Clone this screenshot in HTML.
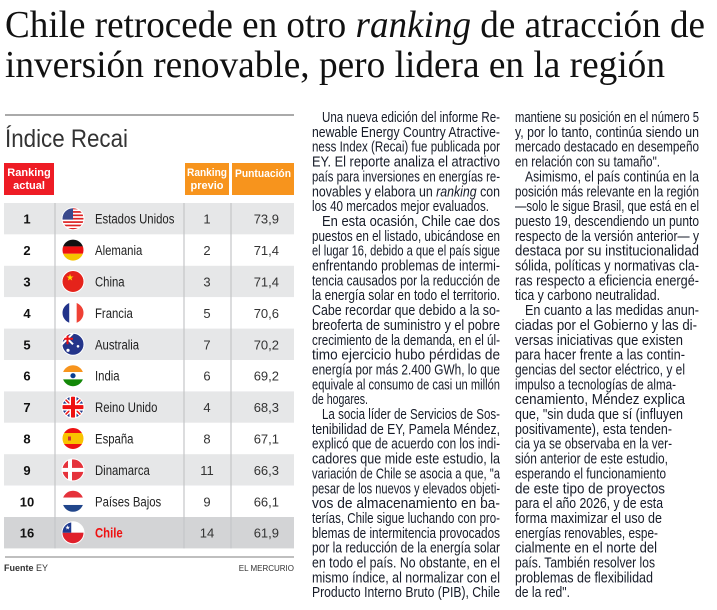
<!DOCTYPE html>
<html><head><meta charset="utf-8"><style>
html,body{margin:0;padding:0;background:#fff;width:717px;height:610px;overflow:hidden}
svg{display:block}
.t{font-family:"Liberation Serif",serif;font-size:38px;fill:#111}
.b{font-family:"Liberation Sans",sans-serif;font-size:14.5px;fill:#161b28}
</style></head><body>
<svg id="page" width="717" height="610" viewBox="0 0 717 610" xmlns="http://www.w3.org/2000/svg">
<g>
<text class="t" x="5" y="37" textLength="700" lengthAdjust="spacingAndGlyphs">Chile retrocede en otro <tspan font-style="italic">ranking</tspan> de atracción de</text>
<text class="t" x="5" y="77" textLength="660" lengthAdjust="spacingAndGlyphs">inversión renovable, pero lidera en la región</text>
</g>
<line x1="5" y1="115" x2="294" y2="115" stroke="#aaa" stroke-width="2"/>
<text x="5" y="147" font-family="Liberation Sans,sans-serif" font-size="25" fill="#333" textLength="123" lengthAdjust="spacingAndGlyphs">Índice Recai</text>
<g font-family="Liberation Sans,sans-serif" font-weight="bold" font-size="11" fill="#fff" text-anchor="middle">
<rect x="4" y="163" width="50" height="32" fill="#ee1c25"/>
<text x="29" y="176">Ranking</text><text x="29" y="189">actual</text>
<rect x="185" y="163" width="44" height="32" fill="#f7941d"/>
<text x="207" y="176" textLength="40" lengthAdjust="spacingAndGlyphs">Ranking</text><text x="207" y="189">previo</text>
<rect x="232" y="163" width="62" height="32" fill="#f7941d"/>
<text x="263" y="177" textLength="56" lengthAdjust="spacingAndGlyphs">Puntuación</text>
</g>
<g id="table"></g>
<line x1="5" y1="557" x2="294" y2="557" stroke="#aaa" stroke-width="1.5"/>
<text x="4" y="571" font-family="Liberation Sans,sans-serif" font-size="9" fill="#333"><tspan font-weight="bold">Fuente</tspan> EY</text>
<text x="294" y="571" text-anchor="end" font-family="Liberation Sans,sans-serif" font-size="8" fill="#333">EL MERCURIO</text>

<g class="b">
<text x="322" y="122" textLength="178" lengthAdjust="spacingAndGlyphs">Una nueva edición del informe Re-</text>
<text x="312" y="136.9" textLength="188" lengthAdjust="spacingAndGlyphs">newable Energy Country Atractive-</text>
<text x="312" y="151.7" textLength="188" lengthAdjust="spacingAndGlyphs">ness Index (Recai) fue publicada por</text>
<text x="312" y="166.6" textLength="188" lengthAdjust="spacingAndGlyphs">EY. El reporte analiza el atractivo</text>
<text x="312" y="181.4" textLength="188" lengthAdjust="spacingAndGlyphs">país para inversiones en energías re-</text>
<text x="312" y="196.3" textLength="188" lengthAdjust="spacingAndGlyphs">novables y elabora un <tspan font-style="italic">ranking</tspan> con</text>
<text x="312" y="211.1" textLength="177" lengthAdjust="spacingAndGlyphs">los 40 mercados mejor evaluados.</text>
<text x="322" y="226" textLength="178" lengthAdjust="spacingAndGlyphs">En esta ocasión, Chile cae dos</text>
<text x="312" y="240.8" textLength="188" lengthAdjust="spacingAndGlyphs">puestos en el listado, ubicándose en</text>
<text x="312" y="255.7" textLength="188" lengthAdjust="spacingAndGlyphs">el lugar 16, debido a que el país sigue</text>
<text x="312" y="270.5" textLength="188" lengthAdjust="spacingAndGlyphs">enfrentando problemas de intermi-</text>
<text x="312" y="285.4" textLength="188" lengthAdjust="spacingAndGlyphs">tencia causados por la reducción de</text>
<text x="312" y="300.2" textLength="188" lengthAdjust="spacingAndGlyphs">la energía solar en todo el territorio.</text>
<text x="312" y="315.1" textLength="188" lengthAdjust="spacingAndGlyphs">Cabe recordar que debido a la so-</text>
<text x="312" y="329.9" textLength="188" lengthAdjust="spacingAndGlyphs">breoferta de suministro y el pobre</text>
<text x="312" y="344.8" textLength="188" lengthAdjust="spacingAndGlyphs">crecimiento de la demanda, en el úl-</text>
<text x="312" y="359.6" textLength="188" lengthAdjust="spacingAndGlyphs">timo ejercicio hubo pérdidas de</text>
<text x="312" y="374.5" textLength="188" lengthAdjust="spacingAndGlyphs">energía por más 2.400 GWh, lo que</text>
<text x="312" y="389.3" textLength="188" lengthAdjust="spacingAndGlyphs">equivale al consumo de casi un millón</text>
<text x="312" y="404.2" textLength="56" lengthAdjust="spacingAndGlyphs">de hogares.</text>
<text x="322" y="419" textLength="178" lengthAdjust="spacingAndGlyphs">La socia líder de Servicios de Sos-</text>
<text x="312" y="433.9" textLength="188" lengthAdjust="spacingAndGlyphs">tenibilidad de EY, Pamela Méndez,</text>
<text x="312" y="448.7" textLength="188" lengthAdjust="spacingAndGlyphs">explicó que de acuerdo con los indi-</text>
<text x="312" y="463.6" textLength="188" lengthAdjust="spacingAndGlyphs">cadores que mide este estudio, la</text>
<text x="312" y="478.4" textLength="188" lengthAdjust="spacingAndGlyphs">variación de Chile se asocia a que, "a</text>
<text x="312" y="493.3" textLength="188" lengthAdjust="spacingAndGlyphs">pesar de los nuevos y elevados objeti-</text>
<text x="312" y="508.1" textLength="188" lengthAdjust="spacingAndGlyphs">vos de almacenamiento en ba-</text>
<text x="312" y="523" textLength="188" lengthAdjust="spacingAndGlyphs">terías, Chile sigue luchando con pro-</text>
<text x="312" y="537.8" textLength="188" lengthAdjust="spacingAndGlyphs">blemas de intermitencia provocados</text>
<text x="312" y="552.7" textLength="188" lengthAdjust="spacingAndGlyphs">por la reducción de la energía solar</text>
<text x="312" y="567.5" textLength="188" lengthAdjust="spacingAndGlyphs">en todo el país. No obstante, en el</text>
<text x="312" y="582.4" textLength="188" lengthAdjust="spacingAndGlyphs">mismo índice, al normalizar con el</text>
<text x="312" y="597.2" textLength="188" lengthAdjust="spacingAndGlyphs">Producto Interno Bruto (PIB), Chile</text>
</g>

<g class="b">
<text x="515" y="122" textLength="184" lengthAdjust="spacingAndGlyphs">mantiene su posición en el número 5</text>
<text x="515" y="136.9" textLength="184" lengthAdjust="spacingAndGlyphs">y, por lo tanto, continúa siendo un</text>
<text x="515" y="151.7" textLength="184" lengthAdjust="spacingAndGlyphs">mercado destacado en desempeño</text>
<text x="515" y="166.6" textLength="145" lengthAdjust="spacingAndGlyphs">en relación con su tamaño".</text>
<text x="525" y="181.4" textLength="174" lengthAdjust="spacingAndGlyphs">Asimismo, el país continúa en la</text>
<text x="515" y="196.3" textLength="184" lengthAdjust="spacingAndGlyphs">posición más relevante en la región</text>
<text x="515" y="211.1" textLength="184" lengthAdjust="spacingAndGlyphs">—solo le sigue Brasil, que está en el</text>
<text x="515" y="226" textLength="184" lengthAdjust="spacingAndGlyphs">puesto 19, descendiendo un punto</text>
<text x="515" y="240.8" textLength="184" lengthAdjust="spacingAndGlyphs">respecto de la versión anterior— y</text>
<text x="515" y="255.7" textLength="184" lengthAdjust="spacingAndGlyphs">destaca por su institucionalidad</text>
<text x="515" y="270.5" textLength="184" lengthAdjust="spacingAndGlyphs">sólida, políticas y normativas cla-</text>
<text x="515" y="285.4" textLength="184" lengthAdjust="spacingAndGlyphs">ras respecto a eficiencia energé-</text>
<text x="515" y="300.2" textLength="145" lengthAdjust="spacingAndGlyphs">tica y carbono neutralidad.</text>
<text x="525" y="315.1" textLength="174" lengthAdjust="spacingAndGlyphs">En cuanto a las medidas anun-</text>
<text x="515" y="329.9" textLength="182" lengthAdjust="spacingAndGlyphs">ciadas por el Gobierno y las di-</text>
<text x="515" y="344.8" textLength="168" lengthAdjust="spacingAndGlyphs">versas iniciativas que existen</text>
<text x="515" y="359.6" textLength="170" lengthAdjust="spacingAndGlyphs">para hacer frente a las contin-</text>
<text x="515" y="374.5" textLength="170" lengthAdjust="spacingAndGlyphs">gencias del sector eléctrico, y el</text>
<text x="515" y="389.3" textLength="161" lengthAdjust="spacingAndGlyphs">impulso a tecnologías de alma-</text>
<text x="515" y="404.2" textLength="170" lengthAdjust="spacingAndGlyphs">cenamiento, Méndez explica</text>
<text x="515" y="419" textLength="168" lengthAdjust="spacingAndGlyphs">que, "sin duda que sí (influyen</text>
<text x="515" y="433.9" textLength="157" lengthAdjust="spacingAndGlyphs">positivamente), esta tenden-</text>
<text x="515" y="448.7" textLength="157" lengthAdjust="spacingAndGlyphs">cia ya se observaba en la ver-</text>
<text x="515" y="463.6" textLength="153" lengthAdjust="spacingAndGlyphs">sión anterior de este estudio,</text>
<text x="515" y="478.4" textLength="151" lengthAdjust="spacingAndGlyphs">esperando el funcionamiento</text>
<text x="515" y="493.3" textLength="150" lengthAdjust="spacingAndGlyphs">de este tipo de proyectos</text>
<text x="515" y="508.1" textLength="148" lengthAdjust="spacingAndGlyphs">para el año 2026, y de esta</text>
<text x="515" y="523" textLength="147" lengthAdjust="spacingAndGlyphs">forma maximizar el uso de</text>
<text x="515" y="537.8" textLength="143" lengthAdjust="spacingAndGlyphs">energías renovables, espe-</text>
<text x="515" y="552.7" textLength="142" lengthAdjust="spacingAndGlyphs">cialmente en el norte del</text>
<text x="515" y="567.5" textLength="140" lengthAdjust="spacingAndGlyphs">país. También resolver los</text>
<text x="515" y="582.4" textLength="138" lengthAdjust="spacingAndGlyphs">problemas de flexibilidad</text>
<text x="515" y="597.2" textLength="55" lengthAdjust="spacingAndGlyphs">de la red".</text>
</g>
</svg>
<script>
const ranks = [1,2,3,4,5,6,7,8,9,10,16];
const countries = ["Estados Unidos","Alemania","China","Francia","Australia","India","Reino Unido","España","Dinamarca","Países Bajos","Chile"];
const flagCodes = ["us","de","cn","fr","au","in","gb","es","dk","nl","cl"];
const previous = [1,2,3,5,7,6,4,8,11,9,14];
const scores = ["73,9","71,4","71,4","70,6","70,2","69,2","68,3","67,1","66,3","66,1","61,9"];

const NS = "http://www.w3.org/2000/svg";
const tbl = document.getElementById('table');
const top0 = 203, rowH = 31.4;
function rowY(i){ return top0 + i*rowH; }
function mk(tag, attrs, parent){
  const e = document.createElementNS(NS, tag);
  for (const k in attrs) e.setAttribute(k, attrs[k]);
  parent.appendChild(e);
  return e;
}
function flag(code, cx, cy, g, idx){
  const r = 11;
  const cp = mk('clipPath', {id:'fc'+idx}, g);
  mk('circle', {cx:cx, cy:cy, r:r}, cp);
  const f = mk('g', {'clip-path':'url(#fc'+idx+')'}, g);
  const x = cx - r, y = cy - r, s = 2*r;
  const R = (a,b,c,d,fill) => mk('rect', {x:a, y:b, width:c, height:d, fill:fill}, f);
  if (code==='us'){ R(x,y,s,s,'#fff'); for(let k=0;k<7;k++) R(x,y+k*s/6.5,s,s/13,'#d22'); R(x,y,s*0.5,s*0.54,'#3b4a8c'); }
  else if (code==='de'){ R(x,y,s,s/3,'#111'); R(x,y+s/3,s,s/3,'#e11'); R(x,y+2*s/3,s,s/3,'#f5c400'); }
  else if (code==='cn'){ R(x,y,s,s,'#e5231b'); mk('text',{x:cx-7,y:cy-1,'font-size':9,fill:'#ffde00'},f).textContent='★'; }
  else if (code==='fr'){ R(x,y,s/3,s,'#22338a'); R(x+s/3,y,s/3,s,'#fff'); R(x+2*s/3,y,s/3,s,'#ef4135'); }
  else if (code==='au'){ R(x,y,s,s,'#24358a'); mk('path',{d:`M${x} ${y}L${cx} ${cy}M${cx} ${y}L${x} ${cy}`,stroke:'#fff','stroke-width':2},f); mk('path',{d:`M${x+s/4} ${y}V${cy}M${x} ${y+s/4}H${cx}`,stroke:'#e11','stroke-width':2},f); mk('circle',{cx:cx+5,cy:cy+2,r:1.3,fill:'#fff'},f); mk('circle',{cx:cx-5,cy:cy+6,r:1.6,fill:'#fff'},f); }
  else if (code==='in'){ R(x,y,s,s/3,'#f7941d'); R(x,y+s/3,s,s/3,'#fff'); R(x,y+2*s/3,s,s/3,'#138808'); mk('circle',{cx:cx,cy:cy,r:2.6,fill:'#0b3d91'},f); }
  else if (code==='gb'){ R(x,y,s,s,'#233a8a'); mk('path',{d:`M${x} ${y}L${x+s} ${y+s}M${x+s} ${y}L${x} ${y+s}`,stroke:'#fff','stroke-width':4},f); mk('path',{d:`M${x} ${y}L${x+s} ${y+s}M${x+s} ${y}L${x} ${y+s}`,stroke:'#e11','stroke-width':1.5},f); R(cx-3.5,y,7,s,'#fff'); R(x,cy-3.5,s,7,'#fff'); R(cx-2,y,4,s,'#e11'); R(x,cy-2,s,4,'#e11'); }
  else if (code==='es'){ R(x,y,s,s,'#e11'); R(x,y+s/4,s,s/2,'#f9c300'); R(cx-5,cy-2,3,4,'#c33'); }
  else if (code==='dk'){ R(x,y,s,s,'#e5323b'); R(cx-5,y,4,s,'#fff'); R(x,cy-2,s,4,'#fff'); }
  else if (code==='nl'){ R(x,y,s,s/3,'#e5323b'); R(x,y+s/3,s,s/3,'#fff'); R(x,y+2*s/3,s,s/3,'#21468b'); }
  else if (code==='cl'){ R(x,y,s,s/2,'#fff'); R(x,cy,s,s/2,'#e0202b'); R(x,y,s*0.42,s/2,'#1f3a8f'); mk('text',{x:x+3,y:cy-3,'font-size':6,fill:'#fff'},f).textContent='★'; }
  mk('circle',{cx:cx,cy:cy,r:r,fill:'none',stroke:'#fff','stroke-width':1},g);
}
ranks.forEach((rk, i) => {
  const y = rowY(i);
  const g = mk('g', {}, tbl);
  
  
  const isChile = countries[i] === 'Chile';
  const fill = isChile ? '#d3d4d6' : (i % 2 === 0 ? '#e6e7e8' : '#ffffff');
  mk('rect', {x:4, y:y, width:290, height:rowH, fill:fill}, g);
  const cy = y + rowH/2;
  const tr = mk('text', {x:27, y:cy+5, 'text-anchor':'middle', 'font-family':'Liberation Sans,sans-serif', 'font-weight':'bold', 'font-size':13, fill:'#111'}, g);
  
  
  tr.textContent = rk;
  flag(flagCodes[i], 73, cy, g, i);
  const tc = mk('text', {x:95, y:cy+5, 'font-family':'Liberation Sans,sans-serif', 'font-size':13.5, 'font-weight':isChile?'bold':'normal', fill:isChile?'#e11':'#222'}, g);
  
  
  tc.textContent = countries[i];
  const w = tc.getComputedTextLength();
  if (w > 0) { tc.setAttribute('textLength', (w*0.84).toFixed(1)); tc.setAttribute('lengthAdjust','spacingAndGlyphs'); }
  const tp = mk('text', {x:207, y:cy+5, 'text-anchor':'middle', 'font-family':'Liberation Sans,sans-serif', 'font-size':13, fill:'#333'}, g);
  
  
  tp.textContent = previous[i];
  const ts = mk('text', {x:279, y:cy+5, 'text-anchor':'end', 'font-family':'Liberation Sans,sans-serif', 'font-size':13, fill:'#333'}, g);
  
  
  ts.textContent = scores[i];
});
const yEnd = rowY(ranks.length);
[55,184,231].forEach(xv => {
  const l = mk('line', {x1:xv, y1:top0, x2:xv, y2:yEnd, stroke:'#c4c6c8', 'stroke-width':1.2}, tbl);
  
  
});
</script>
</body></html>
